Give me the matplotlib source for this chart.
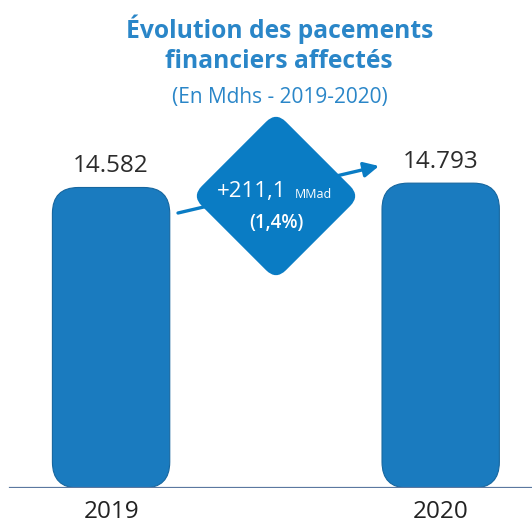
import matplotlib.pyplot as plt
from matplotlib.patches import FancyBboxPatch
from matplotlib.transforms import Affine2D

plt.rcParams['font.family'] = ['Open Sans', 'DejaVu Sans']

years = ['2019', '2020']
values = [14582, 14793]
value_labels = ['14.582', '14.793']
variation = '+211,1'
variation_unit = 'MMad'
variation_pct = '(1,4%)'

bar_color = '#1a7bbf'
accent = '#0a7cc4'
title_color = '#2a86c8'

W, H = 532, 525
fig = plt.figure(figsize=(W / 100, H / 100), dpi=100)

# bars axes: bottom at the baseline
base_px = 488
ax = fig.add_axes([0, (H - base_px) / H, 1, base_px / H])
xmin, xmax = -0.337, 1.277
ymax = 23680
ax.set_xlim(xmin, xmax)
ax.set_ylim(0, ymax)
ax.axis('off')

bar_w = 0.356
bars = ax.bar(range(len(values)), values, width=bar_w, color='none')
px_x = (xmax - xmin) / W
px_y = ymax / base_px
aspect = px_y / px_x
for b in bars:
    b.set_visible(False)
    patch = FancyBboxPatch((b.get_x(), b.get_y()), b.get_width(), b.get_height(),
                           boxstyle='round,pad=0,rounding_size=%f' % (26 * px_x),
                           mutation_aspect=aspect, facecolor=bar_color,
                           edgecolor='#16669f', linewidth=0.8, zorder=3)
    ax.add_patch(patch)

for i, (v, lab) in enumerate(zip(values, value_labels)):
    ax.text(i, v + 9 * px_y, lab, ha='center', va='bottom', fontsize=17.5, color='#2b2b2b')

ax.axhline(0, xmin=10 / W, xmax=1, color='#5b78a0', linewidth=1.6, zorder=4)

# overlay in pixel coordinates for annotations
ov = fig.add_axes([0, 0, 1, 1], zorder=5)
ov.set_xlim(0, W)
ov.set_ylim(H, 0)
ov.axis('off')

for i, y in enumerate(years):
    xc = ax.transData.transform((i, 0))[0] * W / fig.bbox.width
    ov.text(xc, 512, y, ha='center', va='center', fontsize=17.5, color='#222222')

ov.text(280, 29, 'Évolution des pacements', ha='center', va='center',
        fontsize=17.7, fontweight='bold', color=title_color)
ov.text(279, 61, 'financiers affectés', ha='center', va='center',
        fontsize=17.7, fontweight='bold', color=title_color)
ov.text(280, 97, '(En Mdhs - 2019-2020)', ha='center', va='center',
        fontsize=15, color=title_color)

# arrow behind the diamond
ov.annotate('', xy=(379, 166), xytext=(178, 213),
            arrowprops=dict(arrowstyle='-|>,head_length=0.9,head_width=0.45',
                            color=accent, lw=2.4, shrinkA=0, shrinkB=0))

# rounded diamond
cx, cy, s = 276, 196, 119
diamond = FancyBboxPatch((cx - s / 2, cy - s / 2), s, s,
                         boxstyle='round,pad=0,rounding_size=14',
                         facecolor=accent, edgecolor='none')
diamond.set_transform(Affine2D().rotate_deg_around(cx, cy, 45) + ov.transData)
ov.add_patch(diamond)

ov.text(252, 191, variation, ha='center', va='center', fontsize=16, color='white')
ov.text(313, 194, variation_unit, ha='center', va='center', fontsize=9, color='white')
ov.text(276, 223, variation_pct, ha='center', va='center', fontsize=13.5,
        fontweight='semibold', color='white')

fig.savefig('out.png', dpi=100)
